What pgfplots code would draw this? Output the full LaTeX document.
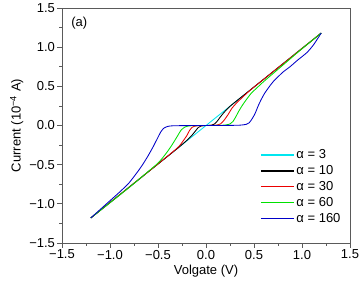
\documentclass[border=0pt]{standalone}
\usepackage{fontspec}
\setmainfont{Liberation Sans}
\usepackage{pgfplots}
\pgfplotsset{compat=1.18}
\definecolor{axgray}{RGB}{90,90,90}
\definecolor{ccyan}{RGB}{0,230,240}
\definecolor{cgreen}{RGB}{0,225,0}
\definecolor{cblue}{RGB}{0,0,200}
\definecolor{cred}{RGB}{235,0,0}
\begin{document}
\begin{tikzpicture}
\begin{axis}[
  scale only axis,
  width=288pt, height=235pt,
  xmin=-1.5, xmax=1.5, ymin=-1.5, ymax=1.5,
  xtick={-1.5,-1,-0.5,0,0.5,1,1.5},
  xticklabels={−1.5,−1.0,−0.5,0.0,0.5,1.0,1.5},
  ytick={-1.5,-1,-0.5,0,0.5,1,1.5},
  yticklabels={−1.5,−1.0,−0.5,0.0,0.5,1.0,1.5},
  minor tick num=1,
  tick align=outside,
  tick pos=left,
  major tick length=4.5pt,
  minor tick length=2.5pt,
  axis line style={axgray, line width=0.8pt},
  every tick/.style={axgray, line width=0.7pt},
  tick label style={font=\fontsize{13}{15}\selectfont},
  xticklabel style={yshift=1pt},
  yticklabel style={xshift=1pt},
  label style={font=\fontsize{13}{15}\selectfont},
  xlabel={Volgate (V)},
  ylabel={Current (10\textsuperscript{−4} A)},
  xlabel style={yshift=1pt},
  ylabel style={yshift=-1pt},
  legend style={draw=none, fill=none, at={(0.985,0.065)}, anchor=south east,
    font=\fontsize{13}{15}\selectfont, row sep=1.2pt},
  legend cell align=left,
  legend image code/.code={\draw[#1, line width=1.3pt] (0pt,0pt) -- (33pt,0pt);},
  every axis plot/.append style={line width=0.85pt, smooth, tension=0.4},
]
\addplot[ccyan] coordinates {(-1.2,-1.18) (-0.6,-0.59) (0,0) (0.6,0.59) (1.2,1.18)};
\addlegendentry{α = 3}
\addplot[black] coordinates {
(-1.2,-1.18) (-0.6,-0.59) (-0.3,-0.295) (-0.2,-0.19) (-0.15,-0.13) (-0.11,-0.07)
(-0.08,-0.025) (-0.05,-0.006) (0,0) (0.06,0.005) (0.09,0.02) (0.12,0.06)
(0.15,0.11) (0.19,0.17) (0.25,0.245) (0.35,0.345) (0.6,0.59) (1.2,1.18)};
\addlegendentry{α = 10}
\addplot[cred] coordinates {
(-1.2,-1.18) (-0.6,-0.59) (-0.35,-0.34) (-0.28,-0.265) (-0.24,-0.20) (-0.20,-0.13)
(-0.17,-0.06) (-0.14,-0.02) (-0.10,-0.005) (0,0) (0.10,0.004) (0.15,0.02)
(0.19,0.07) (0.23,0.14) (0.27,0.22) (0.32,0.29) (0.38,0.36) (0.45,0.44)
(0.6,0.59) (0.9,0.885) (1.2,1.18)};
\addlegendentry{α = 30}
\addplot[cgreen] coordinates {
(-1.2,-1.18) (-0.8,-0.79) (-0.6,-0.585) (-0.5,-0.48) (-0.45,-0.41) (-0.40,-0.33)
(-0.35,-0.24) (-0.30,-0.14) (-0.26,-0.06) (-0.22,-0.02) (-0.18,-0.006) (-0.1,-0.001)
(0,0) (0.1,0.001) (0.2,0.006) (0.25,0.02) (0.28,0.05) (0.31,0.11) (0.34,0.18)
(0.38,0.26) (0.42,0.33) (0.47,0.41) (0.53,0.48) (0.6,0.56) (0.7,0.665)
(0.8,0.77) (0.9,0.875) (1.0,0.98) (1.2,1.18)};
\addlegendentry{α = 60}
\addplot[cblue] coordinates {
(-1.2,-1.18) (-1.1,-1.07) (-1.0,-0.96) (-0.9,-0.85) (-0.8,-0.73) (-0.7,-0.57)
(-0.65,-0.48) (-0.6,-0.38) (-0.55,-0.27) (-0.5,-0.15) (-0.47,-0.08) (-0.44,-0.035)
(-0.40,-0.012) (-0.35,-0.004) (-0.2,-0.001) (0,0) (0.2,0.001) (0.35,0.004)
(0.42,0.015) (0.45,0.035) (0.48,0.085) (0.51,0.15) (0.54,0.24) (0.57,0.32)
(0.61,0.41) (0.65,0.48) (0.70,0.56) (0.80,0.68) (0.875,0.75) (0.95,0.83)
(1.05,0.93) (1.12,1.03) (1.2,1.18)};
\addlegendentry{α = 160}
\node[anchor=north west, font=\fontsize{13}{15}\selectfont] at (axis description cs:0.02,0.975) {(a)};
\end{axis}
\path (current axis.south west) ++(-62pt,-44pt) (current axis.north east) ++(13pt,8pt);
\end{tikzpicture}
\end{document}
